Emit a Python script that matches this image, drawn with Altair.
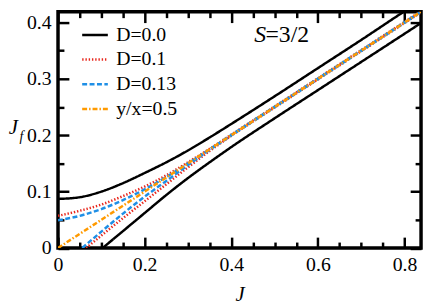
import altair as alt
import pandas as pd

FONT = "Liberation Serif"

# ---------------- data ----------------
# D = 0.0 (black, solid): upper and lower branches
d00_up_J = [0.0, 0.05, 0.10, 0.15, 0.20, 0.25, 0.30, 0.35, 0.40, 0.50, 0.60, 0.70, 0.80, 0.84]
d00_up_y = [0.087, 0.090, 0.100, 0.115, 0.133, 0.152, 0.173, 0.196, 0.220, 0.269, 0.319, 0.369, 0.420, 0.440]
d00_lo_J = [0.103, 0.15, 0.20, 0.25, 0.30, 0.35, 0.40, 0.50, 0.60, 0.70, 0.84]
d00_lo_y = [0.0, 0.030, 0.062, 0.094, 0.124, 0.152, 0.179, 0.230, 0.280, 0.330, 0.400]

# D = 0.1 (red, dotted)
d01_up_J = [0.0, 0.05, 0.10, 0.15, 0.20, 0.25, 0.30, 0.35, 0.40, 0.50, 0.60, 0.70, 0.84]
d01_up_y = [0.057, 0.066, 0.077, 0.092, 0.109, 0.129, 0.152, 0.176, 0.201, 0.251, 0.301, 0.351, 0.421]
d01_lo_J = [0.065, 0.10, 0.15, 0.20, 0.25, 0.30, 0.35, 0.40, 0.50, 0.60, 0.70, 0.84]
d01_lo_y = [0.0, 0.022, 0.053, 0.083, 0.113, 0.143, 0.172, 0.199, 0.249, 0.299, 0.349, 0.419]

# D = 0.13 (blue, dashed)
d13_up_J = [0.0, 0.05, 0.10, 0.15, 0.20, 0.25, 0.30, 0.35, 0.40, 0.50, 0.60, 0.70, 0.84]
d13_up_y = [0.049, 0.057, 0.069, 0.085, 0.104, 0.126, 0.150, 0.175, 0.2005, 0.2505, 0.3005, 0.3505, 0.4205]
d13_lo_J = [0.056, 0.10, 0.15, 0.20, 0.25, 0.30, 0.35, 0.40, 0.50, 0.60, 0.70, 0.84]
d13_lo_y = [0.0, 0.029, 0.061, 0.091, 0.119, 0.147, 0.174, 0.1995, 0.2495, 0.2995, 0.3495, 0.4195]

# y/x = 0.5 (orange, dash-dot)
ref_J = [0.0, 0.84]
ref_y = [0.0, 0.42]

series_names = ["D=0.0", "D=0.1", "D=0.13", "y/x=0.5"]
series_colors = ["#000000", "#e8281e", "#1f8fe6", "#ff9a00"]
series_dashes = [[1, 0], [1.4, 1.9], [5, 2.5], [5, 2, 1.5, 2]]

x_major = [0, 0.2, 0.4, 0.6, 0.8]
x_minor = [0.05, 0.1, 0.15, 0.25, 0.3, 0.35, 0.45, 0.5, 0.55, 0.65, 0.7, 0.75]
y_major = [0, 0.1, 0.2, 0.3, 0.4]
y_minor = [0.05, 0.15, 0.25, 0.35]

X_DOM = [0, 0.838]
Y_DOM = [0, 0.419]

# ---------------- build table ----------------
rows = []
def add(name, seg, Js, ys):
    for j, v in zip(Js, ys):
        rows.append({"J": j, "Jf": v, "series": name, "seg": name + seg})

add("D=0.1", "u", d01_up_J, d01_up_y)
add("D=0.1", "l", d01_lo_J, d01_lo_y)
add("D=0.13", "u", d13_up_J, d13_up_y)
add("D=0.13", "l", d13_lo_J, d13_lo_y)
add("D=0.0", "u", d00_up_J, d00_up_y)
add("D=0.0", "l", d00_lo_J, d00_lo_y)
add("y/x=0.5", "r", ref_J, ref_y)
df = pd.DataFrame(rows)

tick_df = pd.DataFrame({"J": [0.0], "Jf": [0.0]})

W, H = 368, 239.5

def xs():
    return alt.Scale(domain=X_DOM, nice=False, zero=False)

def ys():
    return alt.Scale(domain=Y_DOM, nice=False, zero=False)

common = dict(domain=False, grid=False, tickColor="black", tickWidth=2.5,
              labelFont=FONT, labelFontSize=20, labelColor="black", labelFlush=False,
              titleFont=FONT, titleColor="black", titleFontWeight="normal",
              titleFontStyle="italic")

legend = alt.Legend(title=None, orient="none", legendX=23, legendY=9,
                    symbolType="stroke", symbolSize=676, symbolStrokeWidth=2.5,
                    labelFont=FONT, labelFontSize=20, labelColor="black",
                    labelOffset=7, rowPadding=-1)

lines = alt.Chart(df).mark_line(strokeWidth=2.5, clip=True, interpolate="monotone").encode(
    x=alt.X("J:Q", scale=xs(), axis=alt.Axis(
        orient="bottom", values=x_major, format="~g", offset=-11, tickSize=11,
        labelPadding=7, title="J", titleFontSize=21, titleX=184, titleY=58,
        titleBaseline="middle", titleAlign="center", **common)),
    y=alt.Y("Jf:Q", scale=ys(), axis=alt.Axis(
        orient="left", values=y_major, format="~g", offset=-11, tickSize=11,
        labelPadding=7, title="J", titleFontSize=21, titleAngle=0,
        titleX=-56.7, titleY=117, titleAlign="center", titleBaseline="middle",
        **common)),
    color=alt.Color("series:N", scale=alt.Scale(domain=series_names, range=series_colors), legend=legend),
    strokeDash=alt.StrokeDash("series:N", scale=alt.Scale(domain=series_names, range=series_dashes), legend=legend),
    detail="seg:N",
)

def tick_layer(xorient, yorient, xvals, yvals, size, ytitle=None, **ykw):
    return alt.Chart(tick_df).mark_point(opacity=0).encode(
        x=alt.X("J:Q", scale=xs(), axis=alt.Axis(
            orient=xorient, values=xvals, offset=-size, tickSize=size,
            labels=False, title=None, **common)),
        y=alt.Y("Jf:Q", scale=ys(), axis=alt.Axis(
            orient=yorient, values=yvals, offset=-size, tickSize=size,
            labels=False, title=ytitle, **ykw, **common)),
    )

minor_bl = tick_layer("bottom", "left", x_minor, y_minor, 6, ytitle="f",
                      titleFontSize=14, titleAngle=0, titleX=-43.7, titleY=127,
                      titleAlign="center", titleBaseline="middle")
major_tr = tick_layer("top", "right", x_major, y_major, 11)
minor_tr = tick_layer("top", "right", x_minor, y_minor, 6)

# S=3/2 annotation
ann_S = pd.DataFrame({"J": [0.453], "Jf": [0.378], "t": ["S"]})
ann_rest = pd.DataFrame({"J": [0.479], "Jf": [0.378], "t": ["=3/2"]})
txt_S = alt.Chart(ann_S).mark_text(font=FONT, fontSize=24, fontStyle="italic",
                                   align="left", baseline="middle", color="black").encode(
    x=alt.X("J:Q", scale=xs(), axis=None), y=alt.Y("Jf:Q", scale=ys(), axis=None), text="t:N")
txt_rest = alt.Chart(ann_rest).mark_text(font=FONT, fontSize=24,
                                         align="left", baseline="middle", color="black").encode(
    x=alt.X("J:Q", scale=xs(), axis=None), y=alt.Y("Jf:Q", scale=ys(), axis=None), text="t:N")

chart = alt.layer(lines, minor_bl, major_tr, minor_tr, txt_S, txt_rest).resolve_axis(
    x="independent", y="independent"
).properties(
    width=W, height=H,
    autosize=alt.AutoSizeParams(type="none"),
    padding={"left": 50.7, "top": 1.75, "right": 3, "bottom": 55},
).configure_view(stroke="black", strokeWidth=3.5)

chart.save("out.html", embed_options={"renderer": "svg", "actions": False})
